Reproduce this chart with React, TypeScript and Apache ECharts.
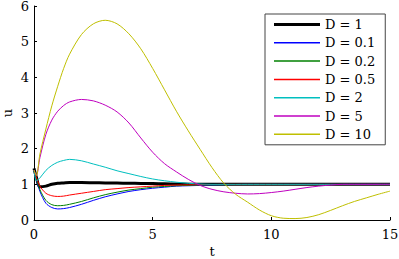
import React, { useEffect, useRef } from "react";
import * as echarts from "echarts";

const tValues = [0, 0.1, 0.25, 0.5, 0.75, 1, 1.25, 1.5, 2, 2.5, 3, 3.5, 4, 4.5, 5, 5.5, 6, 6.5, 7, 7.5, 8, 8.5, 9, 9.5, 10, 10.5, 11, 11.5, 12, 12.5, 13, 13.5, 14, 14.5, 15];

const seriesNames = ["D = 1", "D = 0.1", "D = 0.2", "D = 0.5", "D = 2", "D = 5", "D = 10"];

const uD1 = [1.45, 1.2, 0.93, 0.95, 1.0, 1.03, 1.04, 1.05, 1.05, 1.045, 1.04, 1.035, 1.03, 1.025, 1.02, 1.015, 1.01, 1.005, 1.0, 1.0, 1.0, 1.0, 1.0, 1.0, 1.0, 1.0, 1.0, 1.0, 1.0, 1.0, 1.0, 1.0, 1.0, 1.0, 1.0];
const uD01 = [1.4, 1.12, 0.8, 0.47, 0.35, 0.31, 0.32, 0.35, 0.44, 0.55, 0.65, 0.73, 0.8, 0.85, 0.89, 0.92, 0.95, 0.96, 0.97, 0.98, 0.99, 0.995, 1.0, 1.0, 1.0, 1.0, 1.0, 1.0, 1.0, 1.0, 1.0, 1.0, 1.0, 1.0, 1.0];
const uD02 = [1.4, 1.15, 0.85, 0.55, 0.43, 0.4, 0.41, 0.44, 0.52, 0.62, 0.71, 0.78, 0.84, 0.88, 0.92, 0.94, 0.96, 0.97, 0.98, 0.985, 0.99, 0.995, 1.0, 1.0, 1.0, 1.0, 1.0, 1.0, 1.0, 1.0, 1.0, 1.0, 1.0, 1.0, 1.0];
const uD05 = [1.4, 1.2, 0.95, 0.75, 0.68, 0.66, 0.67, 0.7, 0.75, 0.8, 0.85, 0.88, 0.91, 0.93, 0.95, 0.97, 0.98, 0.985, 0.99, 0.995, 1.0, 1.0, 1.0, 1.0, 1.0, 1.0, 1.0, 1.0, 1.0, 1.0, 1.0, 1.0, 1.0, 1.0, 1.0];
const uD2 = [1.4, 1.1, 1.18, 1.39, 1.53, 1.62, 1.67, 1.7, 1.66, 1.57, 1.48, 1.38, 1.3, 1.22, 1.15, 1.1, 1.06, 1.03, 1.01, 1.0, 1.0, 1.0, 1.0, 1.0, 1.0, 1.0, 1.0, 1.0, 1.0, 1.0, 1.0, 1.0, 1.0, 1.0, 1.0];
const uD5 = [1.4, 1.25, 1.75, 2.4, 2.8, 3.05, 3.21, 3.31, 3.38, 3.34, 3.22, 3.03, 2.72, 2.3, 1.9, 1.58, 1.35, 1.14, 0.97, 0.86, 0.79, 0.75, 0.73, 0.74, 0.77, 0.81, 0.86, 0.91, 0.95, 0.98, 1.0, 1.0, 1.0, 1.0, 1.0];
const uD10 = [1.4, 1.25, 1.85, 2.55, 3.2, 3.75, 4.25, 4.65, 5.2, 5.5, 5.6, 5.5, 5.22, 4.8, 4.25, 3.65, 3.05, 2.5, 1.98, 1.47, 1.03, 0.72, 0.5, 0.28, 0.12, 0.05, 0.04, 0.07, 0.15, 0.27, 0.4, 0.52, 0.62, 0.72, 0.81];

const seriesValues = [uD1, uD01, uD02, uD05, uD2, uD5, uD10];
const seriesColors = ["#000000", "#0000ff", "#008000", "#ff0000", "#00bfbf", "#bf00bf", "#bfbf00"];
const seriesWidths = [3, 1, 1, 1, 1, 1, 1];

const xTicks = [0, 5, 10, 15];
const yTicks = [0, 1, 2, 3, 4, 5, 6];

const FONT = "DejaVu Serif";

export default function App() {
  const ref = useRef<HTMLDivElement>(null);
  useEffect(() => {
    if (!ref.current) return;
    const chart = echarts.init(ref.current, null, { renderer: "svg" });
    const series = seriesNames.map((name, i) => ({
      name,
      type: "line",
      data: tValues.map((t, j) => [t, seriesValues[i][j]]),
      showSymbol: false,
      symbol: "none",
      smooth: 0.3,
      lineStyle: { color: seriesColors[i], width: seriesWidths[i] },
      itemStyle: { color: seriesColors[i] },
      z: 2,
    }));
    const txt = { fontFamily: FONT, fontSize: 13, color: "#000000", fontWeight: "normal" as const };
    chart.setOption({
      animation: false,
      backgroundColor: "#ffffff",
      textStyle: { fontFamily: FONT },
      grid: { left: 34, right: 9, top: 6, bottom: 39, containLabel: false, outerBoundsMode: "none" },
      legend: {
        data: seriesNames.map((n, i) => ({
          name: n,
          icon: i === 0 ? "path://M0,0h46v3h-46z" : "path://M0,0h46v1.5h-46z",
          itemStyle: { color: seriesColors[i], opacity: 1 },
        })),
        orient: "vertical",
        left: 265,
        top: 14,
        itemWidth: 46,
        itemHeight: 14,
        itemGap: 5.3,
        padding: [4, 10, 4, 9],
        borderColor: "#444444",
        borderWidth: 1,
        backgroundColor: "#ffffff",
        symbolKeepAspect: true,
        textStyle: { ...txt, fontSize: 13 },
        selectedMode: false,
      },
      xAxis: {
        type: "value",
        min: xTicks[0],
        max: xTicks[xTicks.length - 1],
        interval: 5,
        name: "t",
        nameLocation: "middle",
        nameGap: 25,
        nameMoveOverlap: false,
        nameTextStyle: txt,
        axisLine: { show: true, onZero: false, lineStyle: { color: "#000", width: 1 } },
        axisTick: { show: true, inside: true, length: 3, lineStyle: { color: "#000" } },
        axisLabel: { ...txt, margin: 8 },
        splitLine: { show: false },
      },
      yAxis: {
        type: "value",
        min: yTicks[0],
        max: yTicks[yTicks.length - 1],
        interval: 1,
        name: "u",
        nameLocation: "middle",
        nameGap: 20,
        nameMoveOverlap: false,
        nameTextStyle: txt,
        axisLine: { show: true, onZero: false, lineStyle: { color: "#000", width: 1 } },
        axisTick: { show: true, inside: true, length: 3, lineStyle: { color: "#000" } },
        axisLabel: { ...txt, margin: 5 },
        splitLine: { show: false },
      },
      series,
    });
    return () => chart.dispose();
  }, []);
  return (
    <div
      ref={ref}
      style={{ position: "fixed", left: 0, top: 0, width: 399, height: 259 }}
    />
  );
}
